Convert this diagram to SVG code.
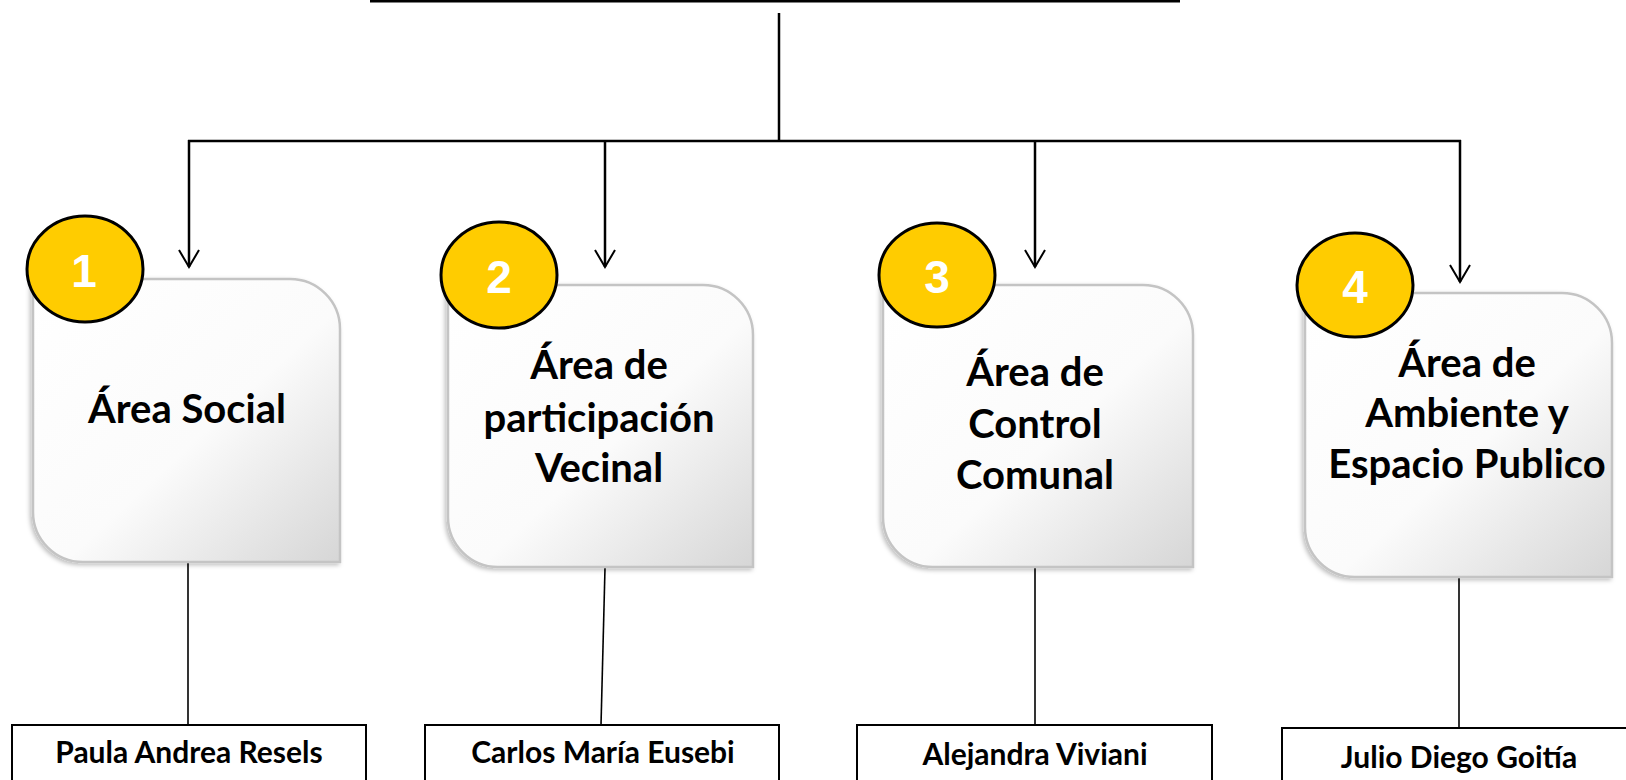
<svg xmlns="http://www.w3.org/2000/svg" width="1626" height="780" viewBox="0 0 1626 780">
<style>
.conn{stroke:#000;stroke-width:2.5;fill:none}
.thin{stroke:#000;stroke-width:1.6;fill:none}
.area{fill:url(#g);stroke:#c4c4c4;stroke-width:2.5;filter:url(#sh)}
.num{font-family:"Liberation Sans",Arial,sans-serif;font-weight:bold;font-size:46px;fill:#fff;text-anchor:middle}
.lbl{font-family:Lato,"Noto Sans",sans-serif;font-weight:bold;font-size:40px;fill:#000;text-anchor:middle}
.pbox{fill:#fff;stroke:#000;stroke-width:2}
.name{font-family:Lato,"Noto Sans",sans-serif;font-weight:bold;font-size:30px;fill:#000;text-anchor:middle}
</style>
<defs>
<linearGradient id="g" x1="0" y1="0" x2="1" y2="1">
<stop offset="0" stop-color="#ffffff"/>
<stop offset="0.55" stop-color="#fbfbfb"/>
<stop offset="1" stop-color="#d6d6d6"/>
</linearGradient>
<filter id="sh" x="-10%" y="-10%" width="120%" height="120%">
<feDropShadow dx="-2" dy="2" stdDeviation="2" flood-color="#000" flood-opacity="0.25"/>
</filter>
<marker id="arr" markerUnits="userSpaceOnUse" markerWidth="40" markerHeight="40" viewBox="-20 -20 40 40" refX="0" refY="0" orient="auto">
<path d="M-17,-10 L0,0 L-17,10" fill="none" stroke="#000" stroke-width="2"/>
</marker>
</defs>
<rect width="1626" height="780" fill="#fff"/>
<g id="connectors">
<line class="conn" x1="370" y1="1.2" x2="1180" y2="1.2"/>
<line class="conn" x1="779" y1="13" x2="779" y2="141"/>
<line class="conn" x1="188" y1="141" x2="1461" y2="141"/>
<line class="conn" x1="189" y1="140" x2="189" y2="267" marker-end="url(#arr)"/>
<line class="conn" x1="605" y1="141" x2="605" y2="267" marker-end="url(#arr)"/>
<line class="conn" x1="1035" y1="141" x2="1035" y2="267" marker-end="url(#arr)"/>
<line class="conn" x1="1460" y1="140" x2="1460" y2="282" marker-end="url(#arr)"/>
<line class="thin" x1="188" y1="563" x2="188" y2="725"/>
<line class="thin" x1="605" y1="568" x2="601" y2="725"/>
<line class="thin" x1="1035" y1="568" x2="1035" y2="725"/>
<line class="thin" x1="1459" y1="578" x2="1459" y2="728"/>
</g>
<g id="area1">
<path class="area" d="M33,279 H290 A50,50 0 0 1 340,329 V562 H83 A50,50 0 0 1 33,512 Z"/>
<ellipse cx="85" cy="269" rx="58" ry="53" fill="#ffcc00" stroke="#000" stroke-width="3"/>
<text class="num" x="84" y="287">1</text>
<text class="lbl" x="187" y="423">Área Social</text>
</g>
<g id="area2">
<path class="area" d="M448,285 H703 A50,50 0 0 1 753,335 V567 H498 A50,50 0 0 1 448,517 Z"/>
<ellipse cx="499" cy="275" rx="58" ry="53" fill="#ffcc00" stroke="#000" stroke-width="3"/>
<text class="num" x="499" y="293">2</text>
<text class="lbl" x="599" y="379">Área de</text>
<text class="lbl" x="599" y="432">participación</text>
<text class="lbl" x="599" y="482">Vecinal</text>
</g>
<g id="area3">
<path class="area" d="M883,285 H1143 A50,50 0 0 1 1193,335 V567 H933 A50,50 0 0 1 883,517 Z"/>
<ellipse cx="937" cy="275" rx="58" ry="52" fill="#ffcc00" stroke="#000" stroke-width="3"/>
<text class="num" x="937" y="293">3</text>
<text class="lbl" x="1035" y="386">Área de</text>
<text class="lbl" x="1035" y="438">Control</text>
<text class="lbl" x="1035" y="489">Comunal</text>
</g>
<g id="area4">
<path class="area" d="M1305,293 H1562 A50,50 0 0 1 1612,343 V577 H1355 A50,50 0 0 1 1305,527 Z"/>
<ellipse cx="1355" cy="285" rx="58" ry="52" fill="#ffcc00" stroke="#000" stroke-width="3"/>
<text class="num" x="1355" y="303">4</text>
<text class="lbl" x="1467" y="377">Área de</text>
<text class="lbl" x="1467" y="427">Ambiente y</text>
<text class="lbl" x="1467" y="478">Espacio Publico</text>
</g>
<g id="person1">
<rect class="pbox" x="12" y="725" width="354" height="80"/>
<text class="name" x="189" y="763">Paula Andrea Resels</text>
</g>
<g id="person2">
<rect class="pbox" x="425" y="725" width="354" height="80"/>
<text class="name" x="603" y="763">Carlos María Eusebi</text>
</g>
<g id="person3">
<rect class="pbox" x="857" y="725" width="355" height="80"/>
<text class="name" x="1035" y="765">Alejandra Viviani</text>
</g>
<g id="person4">
<rect class="pbox" x="1282" y="728" width="360" height="80"/>
<text class="name" x="1459" y="768">Julio Diego Goitía</text>
</g>
</svg>
